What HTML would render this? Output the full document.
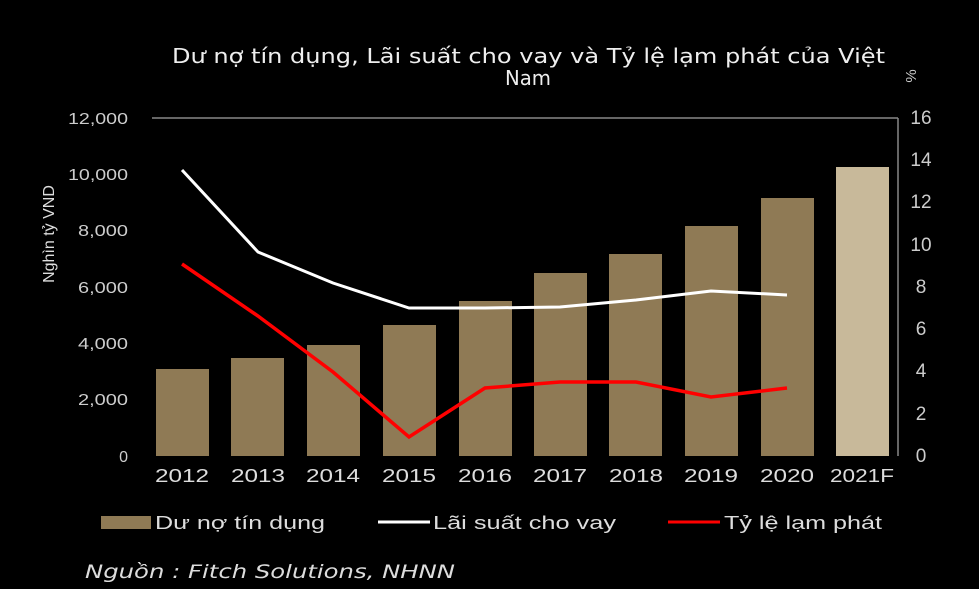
<!DOCTYPE html>
<html><head><meta charset="utf-8"><style>body{margin:0;background:#000}svg{display:block}</style></head><body>
<svg width="979" height="589" viewBox="0 0 979 589" xmlns="http://www.w3.org/2000/svg" font-family="Liberation Sans, sans-serif">
<rect width="979" height="589" fill="#000"/>
<text x="172" y="63" fill="#eee" font-size="20" textLength="713" lengthAdjust="spacingAndGlyphs" font-family="DejaVu Sans, sans-serif">Dư nợ tín dụng, Lãi suất cho vay và Tỷ lệ lạm phát của Việt</text>
<text x="505" y="85" fill="#eee" font-size="20" textLength="46" lengthAdjust="spacingAndGlyphs" font-family="DejaVu Sans, sans-serif">Nam</text>
<text x="912" y="80" fill="#ccc" font-size="15" text-anchor="middle" transform="rotate(-90 912 76)">%</text>
<line x1="152" y1="118" x2="898" y2="118" stroke="#888" stroke-width="1.5"/>
<line x1="898" y1="118" x2="898" y2="456" stroke="#888" stroke-width="1.5"/>
<g fill="#ccc" font-size="16" text-anchor="end">
<text x="128" y="124" textLength="60" lengthAdjust="spacingAndGlyphs">12,000</text><text x="128" y="180" textLength="60" lengthAdjust="spacingAndGlyphs">10,000</text><text x="128" y="236" textLength="50" lengthAdjust="spacingAndGlyphs">8,000</text><text x="128" y="293" textLength="50" lengthAdjust="spacingAndGlyphs">6,000</text><text x="128" y="349" textLength="50" lengthAdjust="spacingAndGlyphs">4,000</text><text x="128" y="405" textLength="50" lengthAdjust="spacingAndGlyphs">2,000</text><text x="128" y="462">0</text>
</g>
<g fill="#ccc" font-size="19" text-anchor="middle">
<text x="921" y="124">16</text><text x="921" y="166">14</text><text x="921" y="208">12</text><text x="921" y="251">10</text><text x="921" y="293">8</text><text x="921" y="335">6</text><text x="921" y="377">4</text><text x="921" y="420">2</text><text x="921" y="462">0</text>
</g>
<text x="0" y="0" fill="#ddd" font-size="16" text-anchor="middle" transform="translate(54 234) rotate(-90)">Nghìn tỷ VND</text>
<g fill="#8f7a55">
<rect x="156" y="369" width="53" height="87"/><rect x="231" y="358" width="53" height="98"/><rect x="307" y="345" width="53" height="111"/><rect x="383" y="325" width="53" height="131"/><rect x="459" y="301" width="53" height="155"/><rect x="534" y="273" width="53" height="183"/><rect x="609" y="254" width="53" height="202"/><rect x="685" y="226" width="53" height="230"/><rect x="761" y="198" width="53" height="258"/>
</g>
<rect x="836" y="167" width="53" height="289" fill="#c8b99a"/>
<polyline points="182,170 258,252 333,283 409,308 485,308 560,307 636,300 711,291 787,295" fill="none" stroke="#fff" stroke-width="3"/>
<polyline points="182,264 258,316 333,372 409,437 485,388 560,382 636,382 711,397 787,388" fill="none" stroke="#f00" stroke-width="3.5"/>
<g fill="#ddd" font-size="18" text-anchor="middle" lengthAdjust="spacingAndGlyphs">
<text x="182" y="482" textLength="54" lengthAdjust="spacingAndGlyphs">2012</text><text x="258" y="482" textLength="54" lengthAdjust="spacingAndGlyphs">2013</text><text x="333" y="482" textLength="54" lengthAdjust="spacingAndGlyphs">2014</text><text x="409" y="482" textLength="54" lengthAdjust="spacingAndGlyphs">2015</text><text x="485" y="482" textLength="54" lengthAdjust="spacingAndGlyphs">2016</text><text x="560" y="482" textLength="54" lengthAdjust="spacingAndGlyphs">2017</text><text x="636" y="482" textLength="54" lengthAdjust="spacingAndGlyphs">2018</text><text x="711" y="482" textLength="54" lengthAdjust="spacingAndGlyphs">2019</text><text x="787" y="482" textLength="54" lengthAdjust="spacingAndGlyphs">2020</text><text x="862" y="482" textLength="64" lengthAdjust="spacingAndGlyphs">2021F</text>
</g>
<rect x="101" y="516" width="50" height="13" fill="#8f7a55"/>
<text x="155" y="529" fill="#ddd" font-size="18" textLength="170" lengthAdjust="spacingAndGlyphs">Dư nợ tín dụng</text>
<line x1="378" y1="522" x2="430" y2="522" stroke="#fff" stroke-width="3"/>
<text x="433" y="529" fill="#ddd" font-size="18" textLength="183" lengthAdjust="spacingAndGlyphs">Lãi suất cho vay</text>
<line x1="668" y1="522" x2="720" y2="522" stroke="#f00" stroke-width="3"/>
<text x="724" y="529" fill="#ddd" font-size="18" textLength="158" lengthAdjust="spacingAndGlyphs">Tỷ lệ lạm phát</text>
<text x="85" y="578" fill="#ddd" font-size="19" font-style="italic" textLength="370" lengthAdjust="spacingAndGlyphs" font-family="DejaVu Sans, sans-serif">Nguồn : Fitch Solutions, NHNN</text>
</svg>
</body></html>
